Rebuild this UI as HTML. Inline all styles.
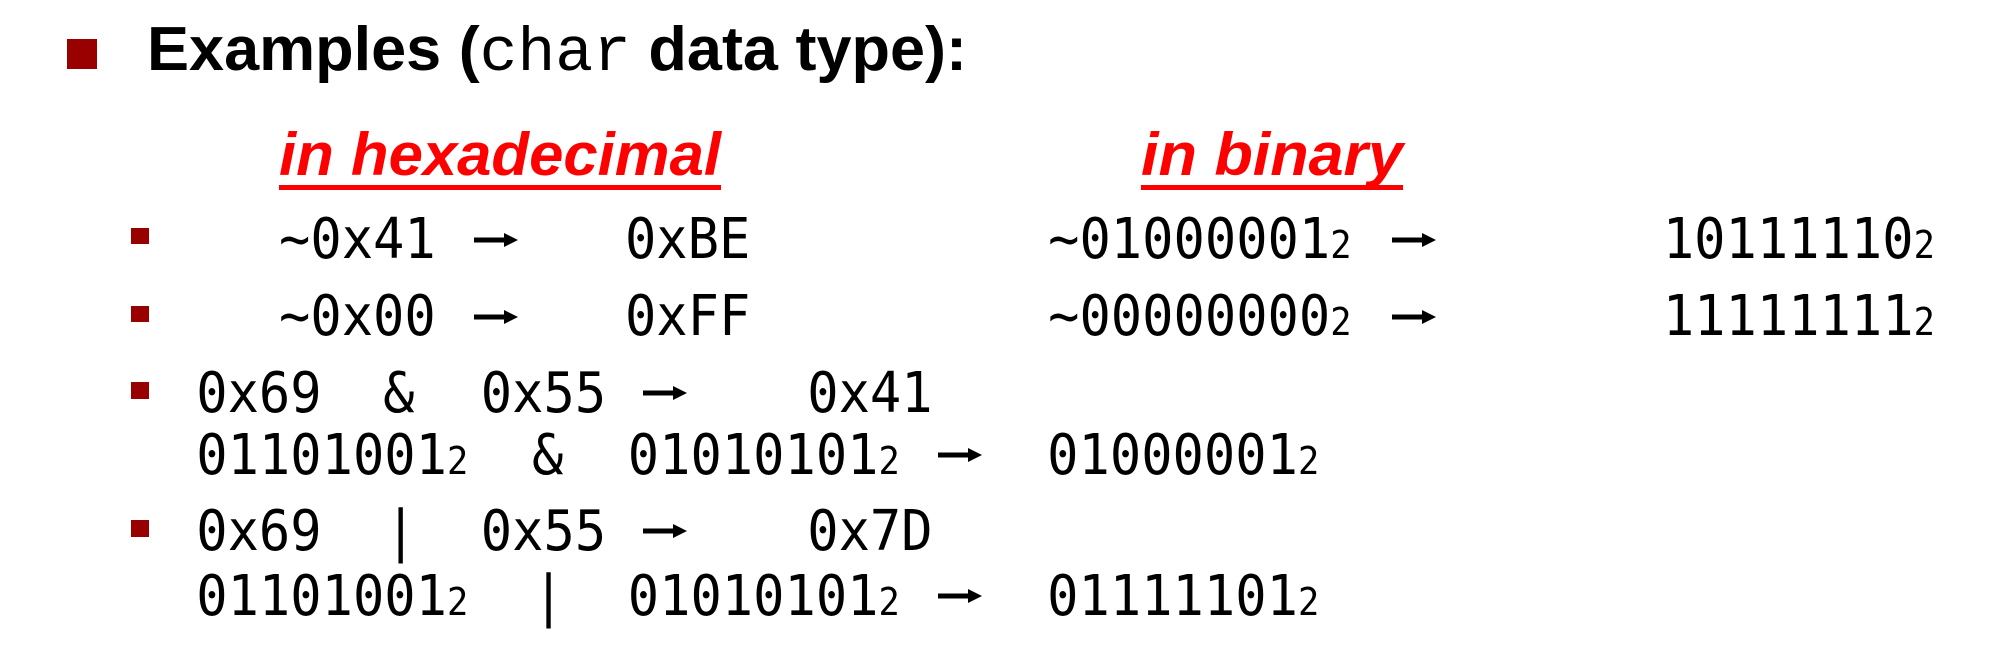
<!DOCTYPE html>
<html><head><meta charset="utf-8"><style>
html,body{margin:0;padding:0;background:#fff;}
svg{display:block}
.m{font-family:"DejaVu Sans Mono","Liberation Mono",monospace;font-size:56px;fill:#000}
.s{font-family:"DejaVu Sans Mono","Liberation Mono",monospace;font-size:38px;fill:#000}
.h{font-family:"Liberation Sans",sans-serif;font-weight:bold;font-size:62px;fill:#000}
.r{font-family:"Liberation Sans",sans-serif;font-weight:bold;font-style:italic;font-size:60px;fill:#f00}
</style></head><body>
<svg width="1998" height="668" viewBox="0 0 1998 668" xmlns="http://www.w3.org/2000/svg">
<defs>
<g id="ar"><rect x="0" y="-2.5" width="34" height="5" fill="#000"/><polygon points="30,-7 44,0 30,7" fill="#000"/></g>
</defs>
<rect x="67" y="39" width="30" height="30" fill="#990000"/>
<text x="147" y="70" class="h" textLength="820" lengthAdjust="spacingAndGlyphs">Examples (<tspan font-family="Liberation Mono, monospace" font-weight="normal">char</tspan> data type):</text>

<text x="279" y="175" class="r" textLength="442" lengthAdjust="spacingAndGlyphs">in hexadecimal</text>
<rect x="279" y="185" width="442" height="5" fill="#f00"/>
<text x="1141" y="175" class="r" textLength="262" lengthAdjust="spacingAndGlyphs">in binary</text>
<rect x="1141" y="185" width="262" height="5" fill="#f00"/>

<rect x="131" y="228" width="18" height="16" fill="#990000"/>
<rect x="131" y="306" width="18" height="16" fill="#990000"/>
<rect x="131" y="382" width="18" height="17" fill="#990000"/>
<rect x="131" y="520" width="18" height="17" fill="#990000"/>

<use href="#ar" x="474" y="240"/>
<use href="#ar" x="1392" y="240"/>
<use href="#ar" x="474" y="317"/>
<use href="#ar" x="1392" y="317"/>
<use href="#ar" x="643" y="393"/>
<use href="#ar" x="938" y="455"/>
<use href="#ar" x="643" y="531"/>
<use href="#ar" x="938" y="596"/>

<g transform="scale(0.93 1)">
<text x="300" y="258" class="m">~0x41</text>
<text x="672" y="258" class="m">0xBE</text>
<text x="1127" y="258" class="m">~01000001<tspan class="s">2</tspan></text>
<text x="1788" y="258" class="m">10111110<tspan class="s">2</tspan></text>

<text x="300" y="335" class="m">~0x00</text>
<text x="672" y="335" class="m">0xFF</text>
<text x="1127" y="335" class="m">~00000000<tspan class="s">2</tspan></text>
<text x="1788" y="335" class="m">11111111<tspan class="s">2</tspan></text>

<text x="211" y="412" class="m">0x69</text>
<text x="412" y="412" class="m">&amp;</text>
<text x="517" y="412" class="m">0x55</text>
<text x="868" y="412" class="m">0x41</text>

<text x="211" y="474" class="m">01101001<tspan class="s">2</tspan></text>
<text x="572" y="474" class="m">&amp;</text>
<text x="675" y="474" class="m">01010101<tspan class="s">2</tspan></text>
<text x="1126" y="474" class="m">01000001<tspan class="s">2</tspan></text>

<text x="211" y="550" class="m">0x69</text>
<text x="414" y="550" class="m">|</text>
<text x="517" y="550" class="m">0x55</text>
<text x="868" y="550" class="m">0x7D</text>

<text x="211" y="615" class="m">01101001<tspan class="s">2</tspan></text>
<text x="573" y="615" class="m">|</text>
<text x="675" y="615" class="m">01010101<tspan class="s">2</tspan></text>
<text x="1126" y="615" class="m">01111101<tspan class="s">2</tspan></text>
</g>
</svg>
</body></html>
